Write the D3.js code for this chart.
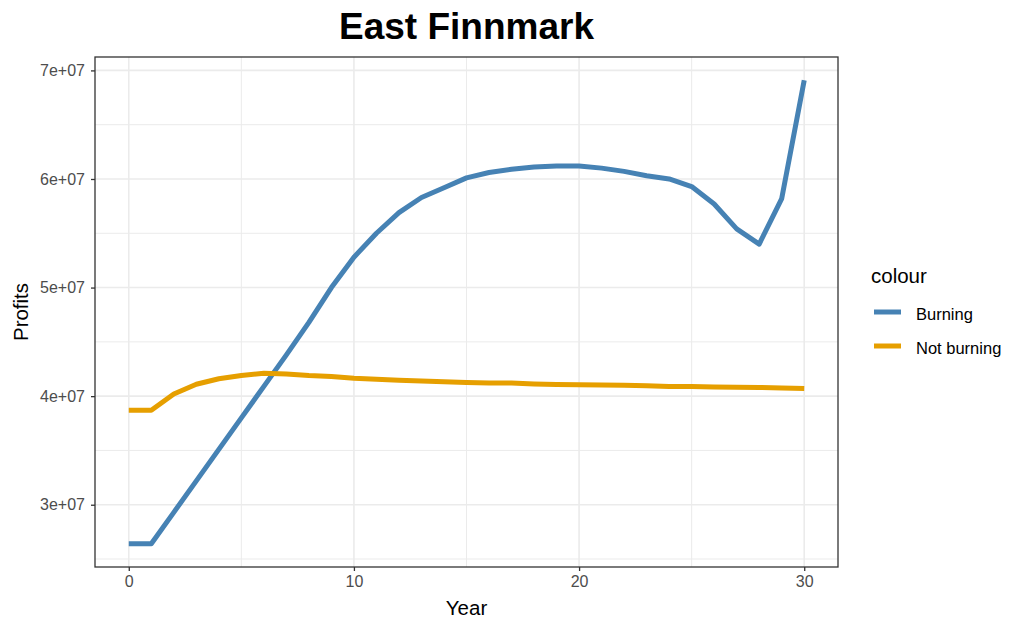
<!DOCTYPE html>
<html>
<head>
<meta charset="utf-8">
<script src="https://cdn.jsdelivr.net/npm/d3@7"></script>
<style>
  body { margin: 0; background: #fff; }
  svg { display: block; font-family: "Liberation Sans", Arial, sans-serif; }
</style>
</head>
<body>
<svg id="chart" width="1024" height="632"></svg>
<script>
const years = d3.range(0, 31);
const burning = [2.64e7, 2.64e7, 2.93e7, 3.22e7, 3.51e7, 3.80e7, 4.09e7, 4.38e7, 4.68e7, 5.00e7,
  5.28e7, 5.50e7, 5.69e7, 5.83e7, 5.92e7, 6.01e7, 6.06e7, 6.09e7, 6.11e7, 6.12e7,
  6.12e7, 6.10e7, 6.07e7, 6.03e7, 6.00e7, 5.93e7, 5.77e7, 5.54e7, 5.40e7, 5.82e7, 6.91e7];
const notBurning = [3.87e7, 3.87e7, 4.02e7, 4.11e7, 4.16e7, 4.19e7, 4.21e7, 4.205e7, 4.19e7, 4.18e7,
  4.165e7, 4.155e7, 4.146e7, 4.14e7, 4.132e7, 4.125e7, 4.122e7, 4.12e7, 4.112e7, 4.108e7,
  4.106e7, 4.103e7, 4.10e7, 4.095e7, 4.09e7, 4.088e7, 4.085e7, 4.082e7, 4.08e7, 4.075e7, 4.07e7];
const seriesNames = ["Burning", "Not burning"];
const seriesColors = ["#4682B4", "#E69F00"];
const xTicks = [0, 10, 20, 30];
const xMinor = [5, 15, 25];
const yTicks = [3e7, 4e7, 5e7, 6e7, 7e7];
const yMinor = [2.5e7, 3.5e7, 4.5e7, 5.5e7, 6.5e7];
const yTickLabels = ["3e+07", "4e+07", "5e+07", "6e+07", "7e+07"];

const svg = d3.select("#chart");
const P = {left: 95, right: 838, top: 57, bottom: 567};

const allVals = burning.concat(notBurning);
const yMin = d3.min(allVals), yMax = d3.max(allVals);
const pad = (yMax - yMin) * 0.05;
const x = d3.scaleLinear().domain([-1.5, 31.5]).range([P.left, P.right]);
const y = d3.scaleLinear().domain([yMin - pad, yMax + pad]).range([P.bottom, P.top]);

// grid
const g = svg.append("g");
g.selectAll(".xminor").data(xMinor).join("line")
  .attr("x1", d => x(d)).attr("x2", d => x(d)).attr("y1", P.top).attr("y2", P.bottom)
  .attr("stroke", "#EBEBEB").attr("stroke-width", 1);
g.selectAll(".yminor").data(yMinor).join("line")
  .attr("y1", d => y(d)).attr("y2", d => y(d)).attr("x1", P.left).attr("x2", P.right)
  .attr("stroke", "#EBEBEB").attr("stroke-width", 1);
g.selectAll(".xmajor").data(xTicks).join("line")
  .attr("x1", d => x(d)).attr("x2", d => x(d)).attr("y1", P.top).attr("y2", P.bottom)
  .attr("stroke", "#EBEBEB").attr("stroke-width", 1.6);
g.selectAll(".ymajor").data(yTicks).join("line")
  .attr("y1", d => y(d)).attr("y2", d => y(d)).attr("x1", P.left).attr("x2", P.right)
  .attr("stroke", "#EBEBEB").attr("stroke-width", 1.6);

// lines
const line = d3.line().x((d, i) => x(years[i])).y(d => y(d));
[burning, notBurning].forEach((s, k) => {
  svg.append("path").datum(s).attr("d", line)
    .attr("fill", "none").attr("stroke", seriesColors[k]).attr("stroke-width", 5)
    .attr("stroke-linejoin", "round");
});

// border
svg.append("rect").attr("x", P.left).attr("y", P.top)
  .attr("width", P.right - P.left).attr("height", P.bottom - P.top)
  .attr("fill", "none").attr("stroke", "#333333").attr("stroke-width", 1.3);

// axes
const xAxis = d3.axisBottom(x).tickValues(xTicks).tickSize(4).tickPadding(5).tickFormat(d3.format("d"));
const xg = svg.append("g").attr("transform", `translate(0,${P.bottom})`).call(xAxis);
const yAxis = d3.axisLeft(y).tickValues(yTicks).tickSize(4).tickPadding(6)
  .tickFormat((d, i) => yTickLabels[i]);
const yg = svg.append("g").attr("transform", `translate(${P.left},0)`).call(yAxis);
[xg, yg].forEach(a => {
  a.attr("font-size", null).attr("font-family", null);
  a.select(".domain").remove();
  a.selectAll(".tick line").attr("stroke", "#333333").attr("stroke-width", 1.3);
  a.selectAll(".tick text").attr("fill", "#4D4D4D").style("font-size", "16px")
    .style("font-family", "'Liberation Sans', Arial, sans-serif");
});

// titles
svg.append("text").attr("x", (P.left + P.right) / 2).attr("y", 39)
  .attr("text-anchor", "middle").style("font-size", "37px").style("font-weight", "bold")
  .attr("fill", "#000").text("East Finnmark");
svg.append("text").attr("x", (P.left + P.right) / 2).attr("y", 615)
  .attr("text-anchor", "middle").style("font-size", "20.5px").attr("fill", "#000").text("Year");
svg.append("text").attr("transform", `translate(28,${(P.top + P.bottom) / 2}) rotate(-90)`)
  .attr("text-anchor", "middle").style("font-size", "20.5px").attr("fill", "#000").text("Profits");

// legend
const lg = svg.append("g").attr("transform", "translate(870,0)");
lg.append("text").attr("x", 1).attr("y", 283).style("font-size", "20.5px").attr("fill", "#000").text("colour");
seriesNames.forEach((n, i) => {
  const cy = 312 + i * 34;
  lg.append("line").attr("x1", 4).attr("x2", 31).attr("y1", cy).attr("y2", cy)
    .attr("stroke", seriesColors[i]).attr("stroke-width", 5);
  lg.append("text").attr("x", 46).attr("y", cy + 8).style("font-size", "16.5px").attr("fill", "#000").text(n);
});
</script>
</body>
</html>
